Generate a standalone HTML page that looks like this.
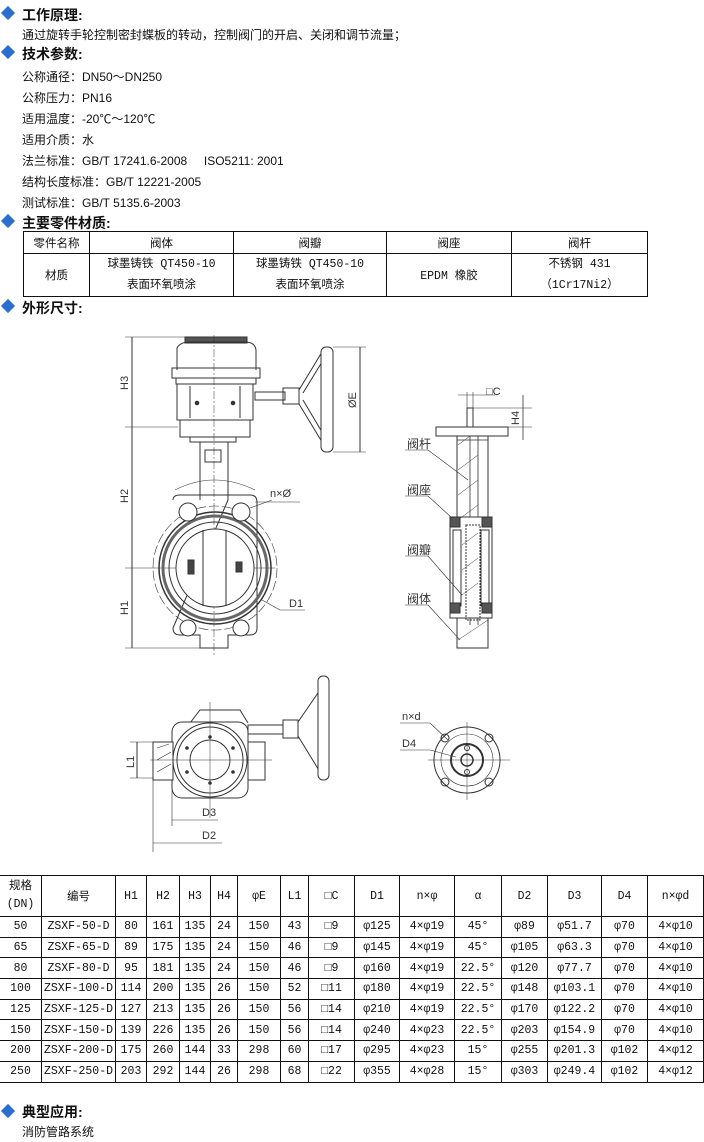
<!DOCTYPE html>
<html><head><meta charset="utf-8">
<style>
body{margin:0;width:704px;height:1142px;background:#fff;position:relative;font-family:"Liberation Sans","Noto Sans CJK SC",sans-serif;color:#111;overflow:hidden}
.a{position:absolute;white-space:nowrap}
.h{font-size:14px;font-weight:bold;left:22px}
.t{font-size:12px;left:22px}
.d{position:absolute;left:3px;width:10px;height:10px;background:#2a6fd0;transform:rotate(45deg)}
table{position:absolute;border-collapse:collapse;font-family:"Liberation Mono","Noto Sans CJK SC",monospace;font-size:11.5px}
td{border:1px solid #111;text-align:center;padding:0;}
svg{position:absolute;left:0;top:0}
svg text{font-family:"Liberation Sans","Noto Sans CJK SC",sans-serif}
</style></head><body>
<div class="d" style="top:8px"></div><div class="a h" style="top:5px">工作原理:</div>
<div class="a t" style="top:26px">通过旋转手轮控制密封蝶板的转动，控制阀门的开启、关闭和调节流量；</div>
<div class="d" style="top:47px"></div><div class="a h" style="top:44px">技术参数:</div>
<div class="a t" style="top:68px">公称通径：DN50～DN250</div>
<div class="a t" style="top:89px">公称压力：PN16</div>
<div class="a t" style="top:110px">适用温度：-20℃～120℃</div>
<div class="a t" style="top:131px">适用介质：水</div>
<div class="a t" style="top:152px">法兰标准：GB/T 17241.6-2008 &nbsp;&nbsp;&nbsp;&nbsp;ISO5211: 2001</div>
<div class="a t" style="top:173px">结构长度标准：GB/T 12221-2005</div>
<div class="a t" style="top:194px">测试标准：GB/T 5135.6-2003</div>
<div class="d" style="top:216px"></div><div class="a h" style="top:213px">主要零件材质:</div>
<table style="left:23px;top:231px;width:625px">
<tr style="height:22px"><td style="width:65px">零件名称</td><td style="width:143px">阀体</td><td style="width:152px">阀瓣</td><td style="width:124px">阀座</td><td>阀杆</td></tr>
<tr style="height:43px"><td>材质</td><td style="line-height:21px">球墨铸铁 QT450-10<br>表面环氧喷涂</td><td style="line-height:21px">球墨铸铁 QT450-10<br>表面环氧喷涂</td><td>EPDM 橡胶</td><td style="line-height:21px">不锈钢 431<br>（1Cr17Ni2）</td></tr>
</table>
<div class="d" style="top:301px"></div><div class="a h" style="top:298px">外形尺寸:</div>

<svg width="704" height="870" viewBox="0 0 704 870" fill="none" stroke="#333" stroke-width="1">
<!-- front view -->
<g>
<line x1="132" y1="337" x2="132" y2="648"/>
<line x1="125" y1="337" x2="190" y2="337" stroke-width=".6"/>
<line x1="125" y1="427" x2="178" y2="427" stroke-width=".6"/>
<line x1="125" y1="568" x2="275" y2="568" stroke-width=".6"/>
<line x1="125" y1="648" x2="210" y2="648" stroke-width=".6"/>
<text x="128" y="390" font-size="11" fill="#333" stroke="none" transform="rotate(-90 128 390)">H3</text>
<text x="128" y="503" font-size="11" fill="#333" stroke="none" transform="rotate(-90 128 503)">H2</text>
<text x="128" y="615" font-size="11" fill="#333" stroke="none" transform="rotate(-90 128 615)">H1</text>
<rect x="185" y="337" width="62" height="6" fill="#555"/>
<path d="M177 370 L177 348 Q180 342 190 342 L245 342 Q255 342 256 350 L256 370"/>
<rect x="172" y="368" width="88" height="10"/>
<rect x="176" y="378" width="80" height="6"/>
<rect x="177" y="384" width="76" height="36"/>
<line x1="190" y1="386" x2="190" y2="418"/><line x1="240" y1="386" x2="240" y2="418"/>
<circle cx="197" cy="403" r="1.8" fill="#333"/><circle cx="233" cy="403" r="1.8" fill="#333"/>
<rect x="180" y="420" width="70" height="17"/>
<rect x="190" y="437" width="46" height="5"/>
<rect x="200" y="442" width="28" height="53"/>
<rect x="205" y="450" width="16" height="12"/>
<line x1="214" y1="335" x2="214" y2="655" stroke-width=".5" stroke-dasharray="8 2 2 2"/>
<path d="M173 500 Q173 495 180 495 L200 495 L200 500 M228 500 L228 495 L250 495 Q257 495 257 502 L257 628 Q257 635 250 635 L228 635 L228 648 L200 648 L200 635 L180 635 Q173 635 173 628 Z"/>
<circle cx="215" cy="568" r="62" stroke-width=".6" stroke-dasharray="10 3"/>
<circle cx="215" cy="568" r="56" stroke-width="1.5"/>
<circle cx="215" cy="568" r="52" stroke="#666" stroke-width="3"/>
<circle cx="215" cy="568" r="46"/>
<circle cx="215" cy="568" r="39" fill="#fff"/>
<line x1="203" y1="530" x2="203" y2="606"/><line x1="226" y1="530" x2="226" y2="606"/>
<rect x="188" y="560" width="6" height="14" fill="#444"/><rect x="236" y="562" width="6" height="10" fill="#444"/>
<circle cx="188" cy="512" r="9" fill="#fff"/><circle cx="241" cy="512" r="9" fill="#fff"/>
<circle cx="188" cy="628" r="8" fill="#fff"/><circle cx="241" cy="628" r="8" fill="#fff"/>
<path d="M175 490 Q214 470 255 490" stroke-width=".6"/>
<line x1="255" y1="502" x2="300" y2="502" stroke-width=".6"/>
<line x1="250" y1="508" x2="272" y2="500" stroke-width=".6"/>
<text x="270" y="497" font-size="11" fill="#333" stroke="none">n×Ø</text>
<line x1="262" y1="600" x2="280" y2="610" stroke-width=".6"/><line x1="280" y1="610" x2="305" y2="610" stroke-width=".6"/>
<text x="289" y="607" font-size="11" fill="#333" stroke="none">D1</text>
<rect x="255" y="392" width="30" height="8"/>
<rect x="283" y="388" width="16" height="16"/>
<path d="M299 390 L322 352 L322 442 L299 404 Z" fill="#fff"/>
<path d="M303 393 L322 362 M303 400 L322 432"/>
<rect x="321" y="347" width="12" height="105" rx="5" fill="#fff"/>
<line x1="333" y1="347" x2="366" y2="347" stroke-width=".6"/><line x1="333" y1="452" x2="366" y2="452" stroke-width=".6"/>
<line x1="360" y1="347" x2="360" y2="452"/>
<text x="356" y="408" font-size="11" fill="#333" stroke="none" transform="rotate(-90 356 408)">ØE</text>
</g>
<!-- side view -->
<g>
<rect x="467" y="408" width="6" height="19"/>
<line x1="467" y1="392" x2="467" y2="408" stroke-width=".6"/><line x1="473" y1="392" x2="473" y2="408" stroke-width=".6"/>
<line x1="458" y1="395" x2="495" y2="395" stroke-width=".6"/>
<text x="486" y="395" font-size="11" fill="#333" stroke="none">□C</text>
<line x1="473" y1="408" x2="532" y2="408" stroke-width=".6"/><line x1="508" y1="427" x2="532" y2="427" stroke-width=".6"/>
<line x1="523" y1="395" x2="523" y2="440" stroke-width=".8"/>
<text x="519" y="425" font-size="11" fill="#333" stroke="none" transform="rotate(-90 519 425)">H4</text>
<rect x="436" y="427" width="72" height="9"/>
<rect x="457" y="436" width="31" height="212" fill="#fff"/>
<path d="M457 440 L488 440 M470 436 L470 625 M478 436 L478 625" stroke-width=".8"/>
<rect x="450" y="517" width="42" height="101" fill="#fff"/>
<rect x="453" y="530" width="8" height="76"/><rect x="481" y="530" width="8" height="76"/>
<rect x="466" y="525" width="14" height="95" stroke-dasharray="2 1"/>
<path d="M458 445 l12 -9 M458 470 l20 -15 M458 495 l20 -15 M458 520 l20 -15 M462 545 l16 -12 M462 570 l16 -12 M462 595 l16 -12 M458 640 l30 -20" stroke-width=".5"/>
<rect x="450" y="517" width="10" height="10" fill="#555"/><rect x="482" y="517" width="10" height="10" fill="#555"/>
<rect x="450" y="603" width="10" height="10" fill="#555"/><rect x="482" y="603" width="10" height="10" fill="#555"/>
<g stroke-width=".6">
<line x1="405" y1="450" x2="428" y2="450"/><line x1="428" y1="450" x2="468" y2="480"/>
<line x1="405" y1="496" x2="428" y2="496"/><line x1="428" y1="496" x2="452" y2="518"/>
<line x1="405" y1="556" x2="428" y2="556"/><line x1="428" y1="556" x2="462" y2="595"/>
<line x1="405" y1="605" x2="428" y2="605"/><line x1="428" y1="605" x2="460" y2="640"/>
</g>
<g font-size="12" fill="#333" stroke="none"><text x="407" y="448">阀杆</text><text x="407" y="494">阀座</text><text x="407" y="554">阀瓣</text><text x="407" y="603">阀体</text></g>
</g>
<!-- bottom view -->
<g>
<path d="M190 723 L200 710 L240 710 L248 723"/>
<rect x="172" y="722" width="76" height="76" rx="10" fill="#fff"/>
<rect x="248" y="742" width="17" height="38"/>
<rect x="153" y="742" width="20" height="38" fill="#fff"/>
<path d="M157 748 l12 -4 M157 760 l14 -8 M157 772 l14 -8" stroke-width=".6"/>
<circle cx="210" cy="760" r="37" fill="#fff"/><circle cx="210" cy="760" r="33"/>
<circle cx="210" cy="760" r="20"/>
<g fill="#333" stroke="none"><circle cx="210" cy="737" r="1.8"/><circle cx="210" cy="783" r="1.8"/><circle cx="187" cy="748" r="1.8"/><circle cx="233" cy="748" r="1.8"/><circle cx="187" cy="772" r="1.8"/><circle cx="233" cy="772" r="1.8"/></g>
<line x1="150" y1="760" x2="272" y2="760" stroke-width=".5"/><line x1="210" y1="702" x2="210" y2="818" stroke-width=".5"/>
<rect x="248" y="725" width="35" height="9"/>
<rect x="283" y="720" width="15" height="18"/>
<path d="M298 722 L320 690 L320 772 L298 736 Z" fill="#fff"/>
<rect x="318" y="676" width="11" height="104" rx="5" fill="#fff"/>
<line x1="130" y1="742" x2="153" y2="742" stroke-width=".6"/><line x1="130" y1="778" x2="153" y2="778" stroke-width=".6"/>
<line x1="137" y1="742" x2="137" y2="778"/>
<text x="134" y="768" font-size="11" fill="#333" stroke="none" transform="rotate(-90 134 768)">L1</text>
<line x1="153" y1="780" x2="153" y2="852" stroke-width=".6"/><line x1="172" y1="790" x2="172" y2="826" stroke-width=".6"/>
<line x1="172" y1="820" x2="218" y2="820" stroke-width=".6"/><line x1="153" y1="843" x2="222" y2="843" stroke-width=".6"/>
<text x="202" y="816" font-size="11" fill="#333" stroke="none">D3</text>
<text x="202" y="839" font-size="11" fill="#333" stroke="none">D2</text>
<circle cx="467" cy="760" r="33"/><circle cx="467" cy="760" r="26" stroke-width=".6"/>
<circle cx="467" cy="760" r="16" stroke-width="2"/><circle cx="467" cy="760" r="6" stroke-width="1.5"/>
<circle cx="445" cy="738" r="4"/><circle cx="489" cy="738" r="4"/><circle cx="445" cy="782" r="4"/><circle cx="489" cy="782" r="4"/>
<circle cx="467" cy="748" r="2.5"/><circle cx="467" cy="772" r="2.5"/>
<line x1="428" y1="760" x2="510" y2="760" stroke-width=".5"/><line x1="467" y1="722" x2="467" y2="800" stroke-width=".5"/>
<line x1="400" y1="723" x2="430" y2="723" stroke-width=".6"/><line x1="430" y1="723" x2="448" y2="740" stroke-width=".6"/>
<line x1="400" y1="750" x2="430" y2="750" stroke-width=".6"/><line x1="430" y1="750" x2="456" y2="757" stroke-width=".6"/>
<text x="402" y="720" font-size="11" fill="#333" stroke="none">n×d</text>
<text x="402" y="747" font-size="11" fill="#333" stroke="none">D4</text>
</g>
</svg>

<table style="left:0;top:875px;width:704px;border-left:none">
<tr style="height:41px"><td style="width:41px;border-left:none;line-height:18px">规格<br>(DN)</td><td style="width:73px">编号</td><td style="width:30px">H1</td><td style="width:32px">H2</td><td style="width:30px">H3</td><td style="width:26px">H4</td><td style="width:42px">φE</td><td style="width:27px">L1</td><td style="width:45px">□C</td><td style="width:44px">D1</td><td style="width:54px">n×φ</td><td style="width:46px">α</td><td style="width:45px">D2</td><td style="width:53px">D3</td><td style="width:45px">D4</td><td>n×φd</td></tr>
<tr style="height:20.7px"><td style="border-left:none">50</td><td>ZSXF-50-D</td><td>80</td><td>161</td><td>135</td><td>24</td><td>150</td><td>43</td><td>□9</td><td>φ125</td><td>4×φ19</td><td>45°</td><td>φ89</td><td>φ51.7</td><td>φ70</td><td>4×φ10</td></tr>
<tr style="height:20.7px"><td style="border-left:none">65</td><td>ZSXF-65-D</td><td>89</td><td>175</td><td>135</td><td>24</td><td>150</td><td>46</td><td>□9</td><td>φ145</td><td>4×φ19</td><td>45°</td><td>φ105</td><td>φ63.3</td><td>φ70</td><td>4×φ10</td></tr>
<tr style="height:20.7px"><td style="border-left:none">80</td><td>ZSXF-80-D</td><td>95</td><td>181</td><td>135</td><td>24</td><td>150</td><td>46</td><td>□9</td><td>φ160</td><td>4×φ19</td><td>22.5°</td><td>φ120</td><td>φ77.7</td><td>φ70</td><td>4×φ10</td></tr>
<tr style="height:20.7px"><td style="border-left:none">100</td><td>ZSXF-100-D</td><td>114</td><td>200</td><td>135</td><td>26</td><td>150</td><td>52</td><td>□11</td><td>φ180</td><td>4×φ19</td><td>22.5°</td><td>φ148</td><td>φ103.1</td><td>φ70</td><td>4×φ10</td></tr>
<tr style="height:20.7px"><td style="border-left:none">125</td><td>ZSXF-125-D</td><td>127</td><td>213</td><td>135</td><td>26</td><td>150</td><td>56</td><td>□14</td><td>φ210</td><td>4×φ19</td><td>22.5°</td><td>φ170</td><td>φ122.2</td><td>φ70</td><td>4×φ10</td></tr>
<tr style="height:20.7px"><td style="border-left:none">150</td><td>ZSXF-150-D</td><td>139</td><td>226</td><td>135</td><td>26</td><td>150</td><td>56</td><td>□14</td><td>φ240</td><td>4×φ23</td><td>22.5°</td><td>φ203</td><td>φ154.9</td><td>φ70</td><td>4×φ10</td></tr>
<tr style="height:20.7px"><td style="border-left:none">200</td><td>ZSXF-200-D</td><td>175</td><td>260</td><td>144</td><td>33</td><td>298</td><td>60</td><td>□17</td><td>φ295</td><td>4×φ23</td><td>15°</td><td>φ255</td><td>φ201.3</td><td>φ102</td><td>4×φ12</td></tr>
<tr style="height:20.7px"><td style="border-left:none">250</td><td>ZSXF-250-D</td><td>203</td><td>292</td><td>144</td><td>26</td><td>298</td><td>68</td><td>□22</td><td>φ355</td><td>4×φ28</td><td>15°</td><td>φ303</td><td>φ249.4</td><td>φ102</td><td>4×φ12</td></tr>
</table>
<div class="d" style="top:1106px"></div><div class="a h" style="top:1102px">典型应用:</div>
<div class="a t" style="top:1123px">消防管路系统</div>
</body></html>
